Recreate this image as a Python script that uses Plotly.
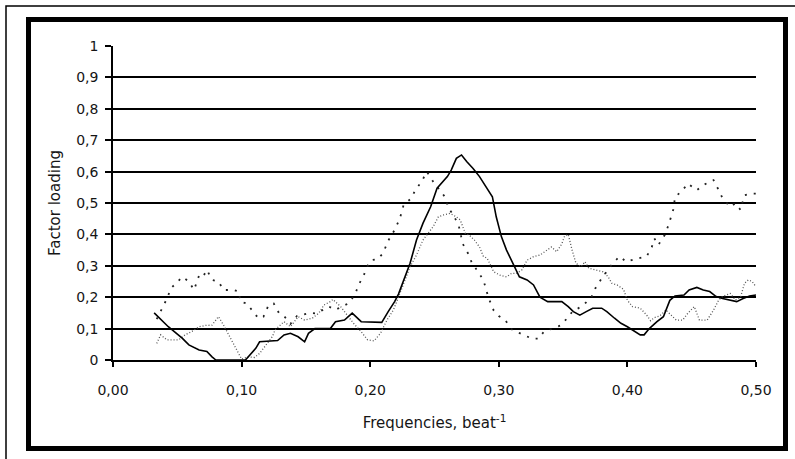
import plotly.graph_objects as go

# ---------------- data ----------------
solid_x = [0.032, 0.043, 0.054, 0.059, 0.067, 0.073, 0.077, 0.080, 0.103, 0.107, 0.111, 0.114,
           0.128, 0.133, 0.138, 0.144, 0.149, 0.152, 0.157, 0.169, 0.173, 0.180, 0.186, 0.193,
           0.209, 0.214, 0.219, 0.222, 0.226, 0.231, 0.236, 0.241, 0.247, 0.252, 0.260, 0.263,
           0.267, 0.271, 0.275, 0.280, 0.285, 0.291, 0.295, 0.298, 0.302, 0.306, 0.311, 0.316,
           0.322, 0.327, 0.332, 0.338, 0.349, 0.354, 0.358, 0.363, 0.368, 0.373, 0.380, 0.384,
           0.390, 0.395, 0.400, 0.406, 0.410, 0.413, 0.417, 0.423, 0.428, 0.433, 0.437, 0.444,
           0.448, 0.454, 0.459, 0.464, 0.469, 0.474, 0.485, 0.490, 0.495, 0.500]
solid_y = [0.150, 0.106, 0.069, 0.048, 0.032, 0.027, 0.010, 0.000, 0.000, 0.020, 0.037, 0.058,
           0.062, 0.080, 0.085, 0.074, 0.058, 0.085, 0.100, 0.100, 0.122, 0.127, 0.149, 0.122,
           0.120, 0.154, 0.186, 0.210, 0.255, 0.308, 0.382, 0.435, 0.488, 0.547, 0.584, 0.605,
           0.642, 0.653, 0.632, 0.610, 0.584, 0.547, 0.520, 0.456, 0.393, 0.350, 0.308, 0.265,
           0.255, 0.239, 0.200, 0.186, 0.186, 0.170, 0.154, 0.143, 0.154, 0.165, 0.165, 0.154,
           0.133, 0.117, 0.106, 0.090, 0.080, 0.080, 0.100, 0.122, 0.138, 0.190, 0.204, 0.207,
           0.223, 0.231, 0.223, 0.218, 0.202, 0.196, 0.186, 0.196, 0.204, 0.207]

coarse_x = [0.034, 0.038, 0.042, 0.045, 0.050, 0.054, 0.059, 0.063, 0.067, 0.070, 0.073, 0.077,
            0.082, 0.086, 0.094, 0.098, 0.099, 0.104, 0.109, 0.113, 0.117, 0.121, 0.125, 0.129,
            0.133, 0.138, 0.143, 0.148, 0.153, 0.158, 0.163, 0.168, 0.173, 0.178, 0.183, 0.188,
            0.191, 0.195, 0.198, 0.201, 0.206, 0.210, 0.214, 0.219, 0.223, 0.226, 0.232, 0.235,
            0.240, 0.244, 0.249, 0.253, 0.258, 0.261, 0.265, 0.269, 0.272, 0.276, 0.279, 0.283,
            0.288, 0.292, 0.296, 0.300, 0.305, 0.310, 0.314, 0.319, 0.326, 0.331, 0.335, 0.342,
            0.348, 0.353, 0.358, 0.362, 0.367, 0.372, 0.375, 0.380, 0.385, 0.389, 0.394, 0.399,
            0.405, 0.410, 0.415, 0.419, 0.421, 0.424, 0.429, 0.432, 0.434, 0.436, 0.437, 0.442,
            0.447, 0.454, 0.459, 0.464, 0.467, 0.471, 0.474, 0.480, 0.484, 0.488, 0.491, 0.496,
            0.500]
coarse_y = [0.130, 0.165, 0.196, 0.228, 0.250, 0.265, 0.250, 0.223, 0.270, 0.265, 0.287, 0.255,
            0.250, 0.223, 0.223, 0.218, 0.186, 0.180, 0.154, 0.133, 0.138, 0.175, 0.180, 0.150,
            0.140, 0.115, 0.140, 0.145, 0.150, 0.148, 0.160, 0.170, 0.160, 0.170, 0.180, 0.207,
            0.239, 0.270, 0.300, 0.318, 0.322, 0.340, 0.380, 0.414, 0.450, 0.494, 0.515, 0.541,
            0.568, 0.600, 0.568, 0.547, 0.520, 0.483, 0.460, 0.425, 0.370, 0.340, 0.310, 0.286,
            0.255, 0.198, 0.158, 0.140, 0.127, 0.098, 0.089, 0.080, 0.068, 0.068, 0.090, 0.100,
            0.110, 0.132, 0.158, 0.165, 0.180, 0.200, 0.228, 0.260, 0.290, 0.310, 0.330, 0.313,
            0.320, 0.325, 0.330, 0.360, 0.387, 0.366, 0.398, 0.430, 0.456, 0.483, 0.520, 0.536,
            0.562, 0.541, 0.557, 0.568, 0.573, 0.541, 0.515, 0.488, 0.499, 0.478, 0.525, 0.530,
            0.530]

fine_x = [0.034, 0.037, 0.042, 0.051, 0.056, 0.061, 0.067, 0.072, 0.077, 0.082, 0.086, 0.090,
          0.094, 0.098, 0.100, 0.105, 0.110, 0.114, 0.120, 0.124, 0.126, 0.133, 0.138, 0.144,
          0.149, 0.155, 0.160, 0.164, 0.169, 0.171, 0.177, 0.182, 0.187, 0.193, 0.198, 0.203,
          0.208, 0.213, 0.218, 0.222, 0.226, 0.231, 0.236, 0.241, 0.249, 0.253, 0.257, 0.262,
          0.267, 0.270, 0.274, 0.277, 0.281, 0.285, 0.288, 0.291, 0.296, 0.301, 0.306, 0.310,
          0.314, 0.318, 0.322, 0.327, 0.332, 0.337, 0.341, 0.345, 0.349, 0.351, 0.354, 0.357,
          0.360, 0.364, 0.367, 0.370, 0.376, 0.381, 0.385, 0.388, 0.392, 0.397, 0.400, 0.404,
          0.410, 0.415, 0.418, 0.421, 0.425, 0.430, 0.434, 0.438, 0.443, 0.447, 0.452, 0.456,
          0.462, 0.467, 0.471, 0.474, 0.480, 0.484, 0.488, 0.491, 0.494, 0.497, 0.500]
fine_y = [0.053, 0.080, 0.064, 0.064, 0.080, 0.090, 0.106, 0.110, 0.111, 0.138, 0.111, 0.080,
          0.048, 0.016, 0.003, 0.010, 0.008, 0.021, 0.055, 0.075, 0.096, 0.122, 0.106, 0.138,
          0.127, 0.133, 0.149, 0.175, 0.186, 0.193, 0.170, 0.143, 0.117, 0.090, 0.064, 0.061,
          0.085, 0.127, 0.159, 0.200, 0.244, 0.297, 0.334, 0.382, 0.425, 0.456, 0.462, 0.467,
          0.456, 0.446, 0.403, 0.398, 0.382, 0.360, 0.330, 0.324, 0.281, 0.270, 0.265, 0.276,
          0.276, 0.287, 0.318, 0.329, 0.334, 0.350, 0.360, 0.345, 0.370, 0.393, 0.400, 0.350,
          0.308, 0.297, 0.313, 0.292, 0.287, 0.281, 0.265, 0.244, 0.239, 0.225, 0.190, 0.170,
          0.165, 0.143, 0.125, 0.135, 0.140, 0.159, 0.143, 0.127, 0.127, 0.149, 0.170, 0.127,
          0.127, 0.159, 0.191, 0.202, 0.212, 0.191, 0.200, 0.244, 0.255, 0.250, 0.233]

x_tickvals = [0.0, 0.1, 0.2, 0.3, 0.4, 0.5]
x_ticktext = ["0,00", "0,10", "0,20", "0,30", "0,40", "0,50"]
y_tickvals = [0, 0.1, 0.2, 0.3, 0.4, 0.5, 0.6, 0.7, 0.8, 0.9, 1.0]
y_ticktext = ["0", "0,1", "0,2", "0,3", "0,4", "0,5", "0,6", "0,7", "0,8", "0,9", "1"]

x_title = "Frequencies, beat<sup>-1</sup>"
y_title = "Factor loading"

# ---------------- figure ----------------
W, H = 795, 459
ML, MR, MT, MB = 113, 39, 46, 99
PW, PH = W - ML - MR, H - MT - MB


def px_x(p):
    return (p - ML) / PW


def px_y(p):
    return (H - MB - p) / PH


FONT = "DejaVu Sans"
TXT = "#151515"

fig = go.Figure()
fig.add_trace(go.Scatter(x=fine_x, y=fine_y, mode="lines",
                         line=dict(color="#555555", width=1.3, dash="1px,2px"),
                         showlegend=False, cliponaxis=False))
fig.add_trace(go.Scatter(x=coarse_x, y=coarse_y, mode="lines",
                         line=dict(color="#222222", width=1.8, dash="2px,7px"),
                         showlegend=False, cliponaxis=False))
fig.add_trace(go.Scatter(x=solid_x, y=solid_y, mode="lines",
                         line=dict(color="#000000", width=1.6),
                         showlegend=False, cliponaxis=False))

shapes = [
    # outer thin frame (extends past the window on right/bottom)
    dict(type="rect", xref="paper", yref="paper",
         x0=px_x(6), x1=px_x(820), y0=px_y(6), y1=px_y(480),
         line=dict(color="black", width=1.5), fillcolor="rgba(0,0,0,0)", layer="above"),
    # inner thick frame
    dict(type="rect", xref="paper", yref="paper",
         x0=px_x(28.5), x1=px_x(785.5), y0=px_y(19.5), y1=px_y(448.5),
         line=dict(color="black", width=5), fillcolor="rgba(0,0,0,0)", layer="above"),
]

fig.update_layout(
    width=W, height=H,
    margin=dict(l=ML, r=MR, t=MT, b=MB, autoexpand=False),
    paper_bgcolor="white", plot_bgcolor="white",
    font=dict(family=FONT, size=14, color=TXT),
    shapes=shapes,
    showlegend=False,
)
fig.update_xaxes(
    range=[0, 0.5], tickvals=x_tickvals, ticktext=x_ticktext,
    showgrid=False, zeroline=False,
    showline=True, linecolor="black", linewidth=1.5,
    ticks="outside", ticklen=5, tickwidth=1.5, tickcolor="black",
    ticklabelstandoff=11,
    tickfont=dict(family=FONT, size=14, color=TXT),
    title=dict(text=x_title, font=dict(family=FONT, size=15, color=TXT), standoff=21),
)
fig.update_yaxes(
    range=[0, 1], tickvals=y_tickvals, ticktext=y_ticktext,
    showgrid=True, gridcolor="black", gridwidth=1.5, zeroline=False,
    showline=True, linecolor="black", linewidth=1.5,
    ticks="outside", ticklen=6, tickwidth=1.5, tickcolor="black",
    ticklabelstandoff=4,
    tickfont=dict(family=FONT, size=14, color=TXT),
    title=dict(text=y_title, font=dict(family=FONT, size=15, color=TXT), standoff=12),
)

fig.write_html("out.html", config={"displayModeBar": False},
               post_script="document.body.style.margin='0';")
